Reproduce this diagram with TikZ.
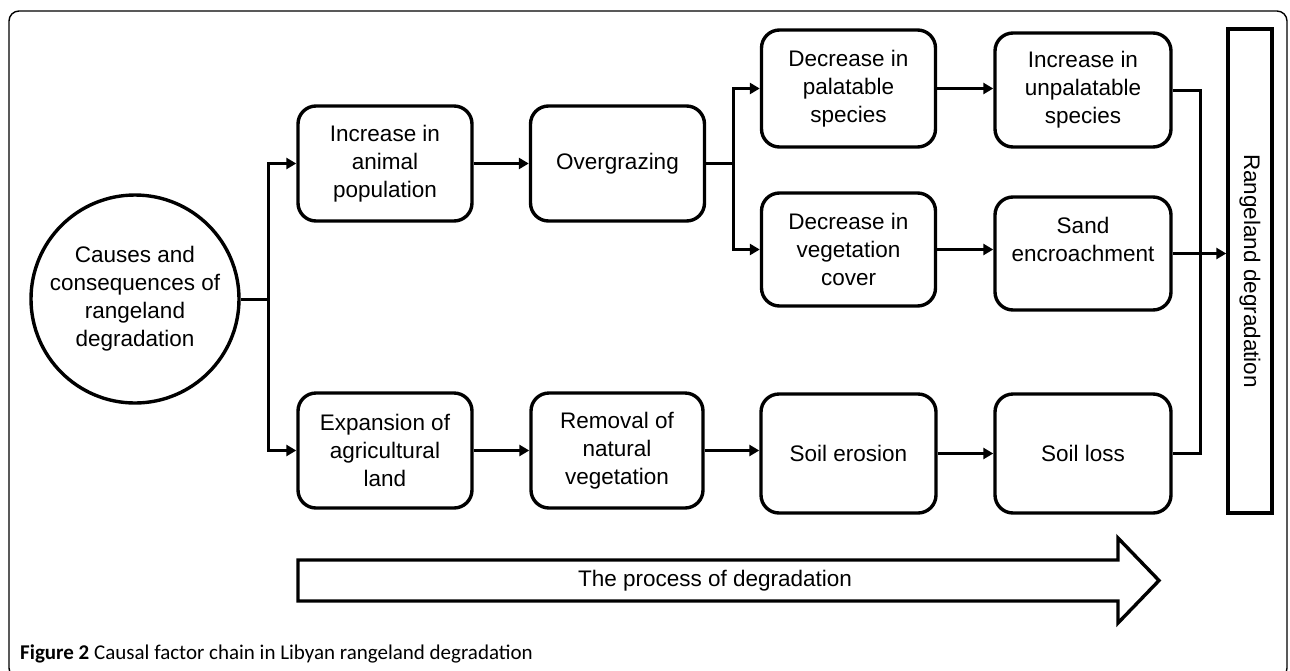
\documentclass[tikz,border=0pt]{standalone}
\usepackage{fontspec}
\setmainfont{Liberation Sans}
\newfontfamily\capfont{Carlito}
\usetikzlibrary{arrows.meta, positioning}

\begin{document}
\begin{tikzpicture}[x=1pt, y=-1pt,
  every node/.style={font=\fontsize{22.5}{28}\selectfont, align=center, inner sep=0pt},
  stage/.style={draw, line width=3.4pt, rounded corners=18pt, minimum width=174pt, minimum height=115pt},
  link/.style={line width=3pt},
  arr/.style={link, -{Triangle[length=10pt, width=11pt]}}]
  \useasboundingbox (0,0) rectangle (1290,670);
  \draw[line width=1.4pt, rounded corners=10pt] (9,11) rectangle (1287,678);

  \node[draw, circle, line width=3.4pt, minimum size=208pt] (cause) at (135,299)
    {Causes and\\consequences of\\rangeland\\degradation};

  \node[stage] (inc)   at (385,163.5)  {Increase in\\animal\\population};
  \node[stage] (over)  at (617.5,163.5) {Overgrazing};
  \node[stage, minimum height=117pt] (pal)   at (848.5,88.5) {Decrease in\\palatable\\species};
  \node[stage, minimum width=176pt, minimum height=114pt] (unpal) at (1083,90) {Increase in\\unpalatable\\species};
  \node[stage, minimum height=113pt] (veg)   at (848.5,249.5) {Decrease in\\vegetation\\cover};
  \node[stage, minimum width=176pt, minimum height=113pt] (sand)  at (1083,253.5) {Sand\\encroachment\\\mbox{}};
  \node[stage] (exp)   at (385,450.5)  {Expansion of\\agricultural\\land};
  \node[stage, minimum width=172pt] (rem)   at (617,450.5)  {Removal of\\natural\\vegetation};
  \node[stage, minimum width=175pt, minimum height=119pt] (ero)   at (848.5,453.5) {Soil erosion};
  \node[stage, minimum width=176pt, minimum height=119pt] (loss)  at (1083,453.5) {Soil loss};

  \node[draw, line width=3.4pt, rotate=-90, minimum width=484pt, minimum height=44pt] (goal)
    at (1250,271) {Rangeland degradation};

  \coordinate (split1) at (268,299);
  \coordinate (split2) at (733,163.5);
  \coordinate (merge) at (1200,0);

  \draw[link] (cause.east) -- (split1);
  \draw[arr] (split1) |- (inc.west);
  \draw[arr] (split1) |- (exp.west);
  \draw[arr] (inc) -- (over);
  \draw[link] (over.east) -- (split2);
  \draw[arr] (split2) |- (pal.west);
  \draw[arr] (split2) |- (veg.west);
  \draw[arr] (pal.east) -- (pal.east -| unpal.west);
  \draw[arr] (veg.east) -- (veg.east -| sand.west);
  \draw[arr] (exp) -- (rem);
  \draw[arr] (rem.east) -- (rem.east -| ero.west);
  \draw[arr] (ero) -- (loss);
  \draw[link] (unpal.east) -| (merge |- loss.east) -- (loss.east);
  \draw[arr] (sand.east) -- (sand.east -| goal.south);

  % big process arrow
  \draw[line width=3.4pt] (298,560) -- (1118,560) -- (1118,538) -- (1159,580.5)
    -- (1118,623) -- (1118,601) -- (298,601) -- cycle;
  \node (proc) at (715,581) {The process of degradation};

  \node[anchor=base west, font=\capfont\fontsize{21}{25}\selectfont] (caption) at (20,659)
    {\textbf{Figure 2} Causal factor chain in Libyan rangeland degradation};
\end{tikzpicture}
\end{document}
